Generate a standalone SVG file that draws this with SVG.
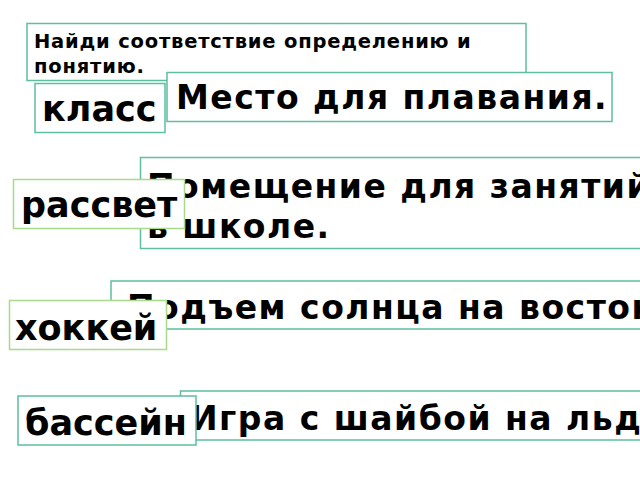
<svg xmlns="http://www.w3.org/2000/svg" width="640" height="480" viewBox="0 0 640 480">
<style>
.t{font-family:"DejaVu Sans",sans-serif;font-weight:bold;fill:#000}
.b{fill:#fff;stroke:#5dbf9f;stroke-width:1.5}
.g{fill:#fff;stroke:#a9d98a;stroke-width:1.5}
.def{font-size:33px;letter-spacing:1.5px}
.lab{font-size:35px}
.title{font-size:19.5px;letter-spacing:0.8px}
</style>
<rect width="640" height="480" fill="#fff"/>
<g id="title">
<rect class="b" x="27" y="23.5" width="499" height="57"/>
<text class="t title" x="34" y="48">Найди соответствие определению и</text>
<text class="t title" x="34" y="73">понятию.</text>
</g>
<g id="def1">
<rect class="b" x="167" y="72.5" width="445" height="49"/>
<text class="t def" x="176" y="109">Место для плавания.</text>
</g>
<g id="word1">
<rect class="b" x="35" y="83.5" width="130" height="49"/>
<text class="t lab" x="42" y="121">класс</text>
</g>
<g id="def2">
<rect class="b" x="140.5" y="157.5" width="510" height="91"/>
<text class="t def" x="147" y="198">Помещение для занятий</text>
<text class="t def" x="147" y="238">в школе.</text>
</g>
<g id="word2">
<rect class="g" x="13.5" y="179.5" width="171" height="49"/>
<text class="t lab" x="21" y="217">рассвет</text>
</g>
<g id="def3">
<rect class="b" x="111" y="281" width="540" height="48"/>
<text class="t def" x="127" y="319">Подъем солнца на восток</text>
</g>
<g id="word3">
<rect class="g" x="9.5" y="300.5" width="157" height="49"/>
<text class="t lab" x="15" y="340">хоккей</text>
</g>
<g id="def4">
<rect class="b" x="180.5" y="391" width="470" height="49"/>
<text class="t def" x="190" y="430">Игра с шайбой на льду</text>
</g>
<g id="word4">
<rect class="b" x="18" y="396" width="178" height="49"/>
<text class="t lab" x="25" y="435">бассейн</text>
</g>
<g id="connectors"/>
</svg>
